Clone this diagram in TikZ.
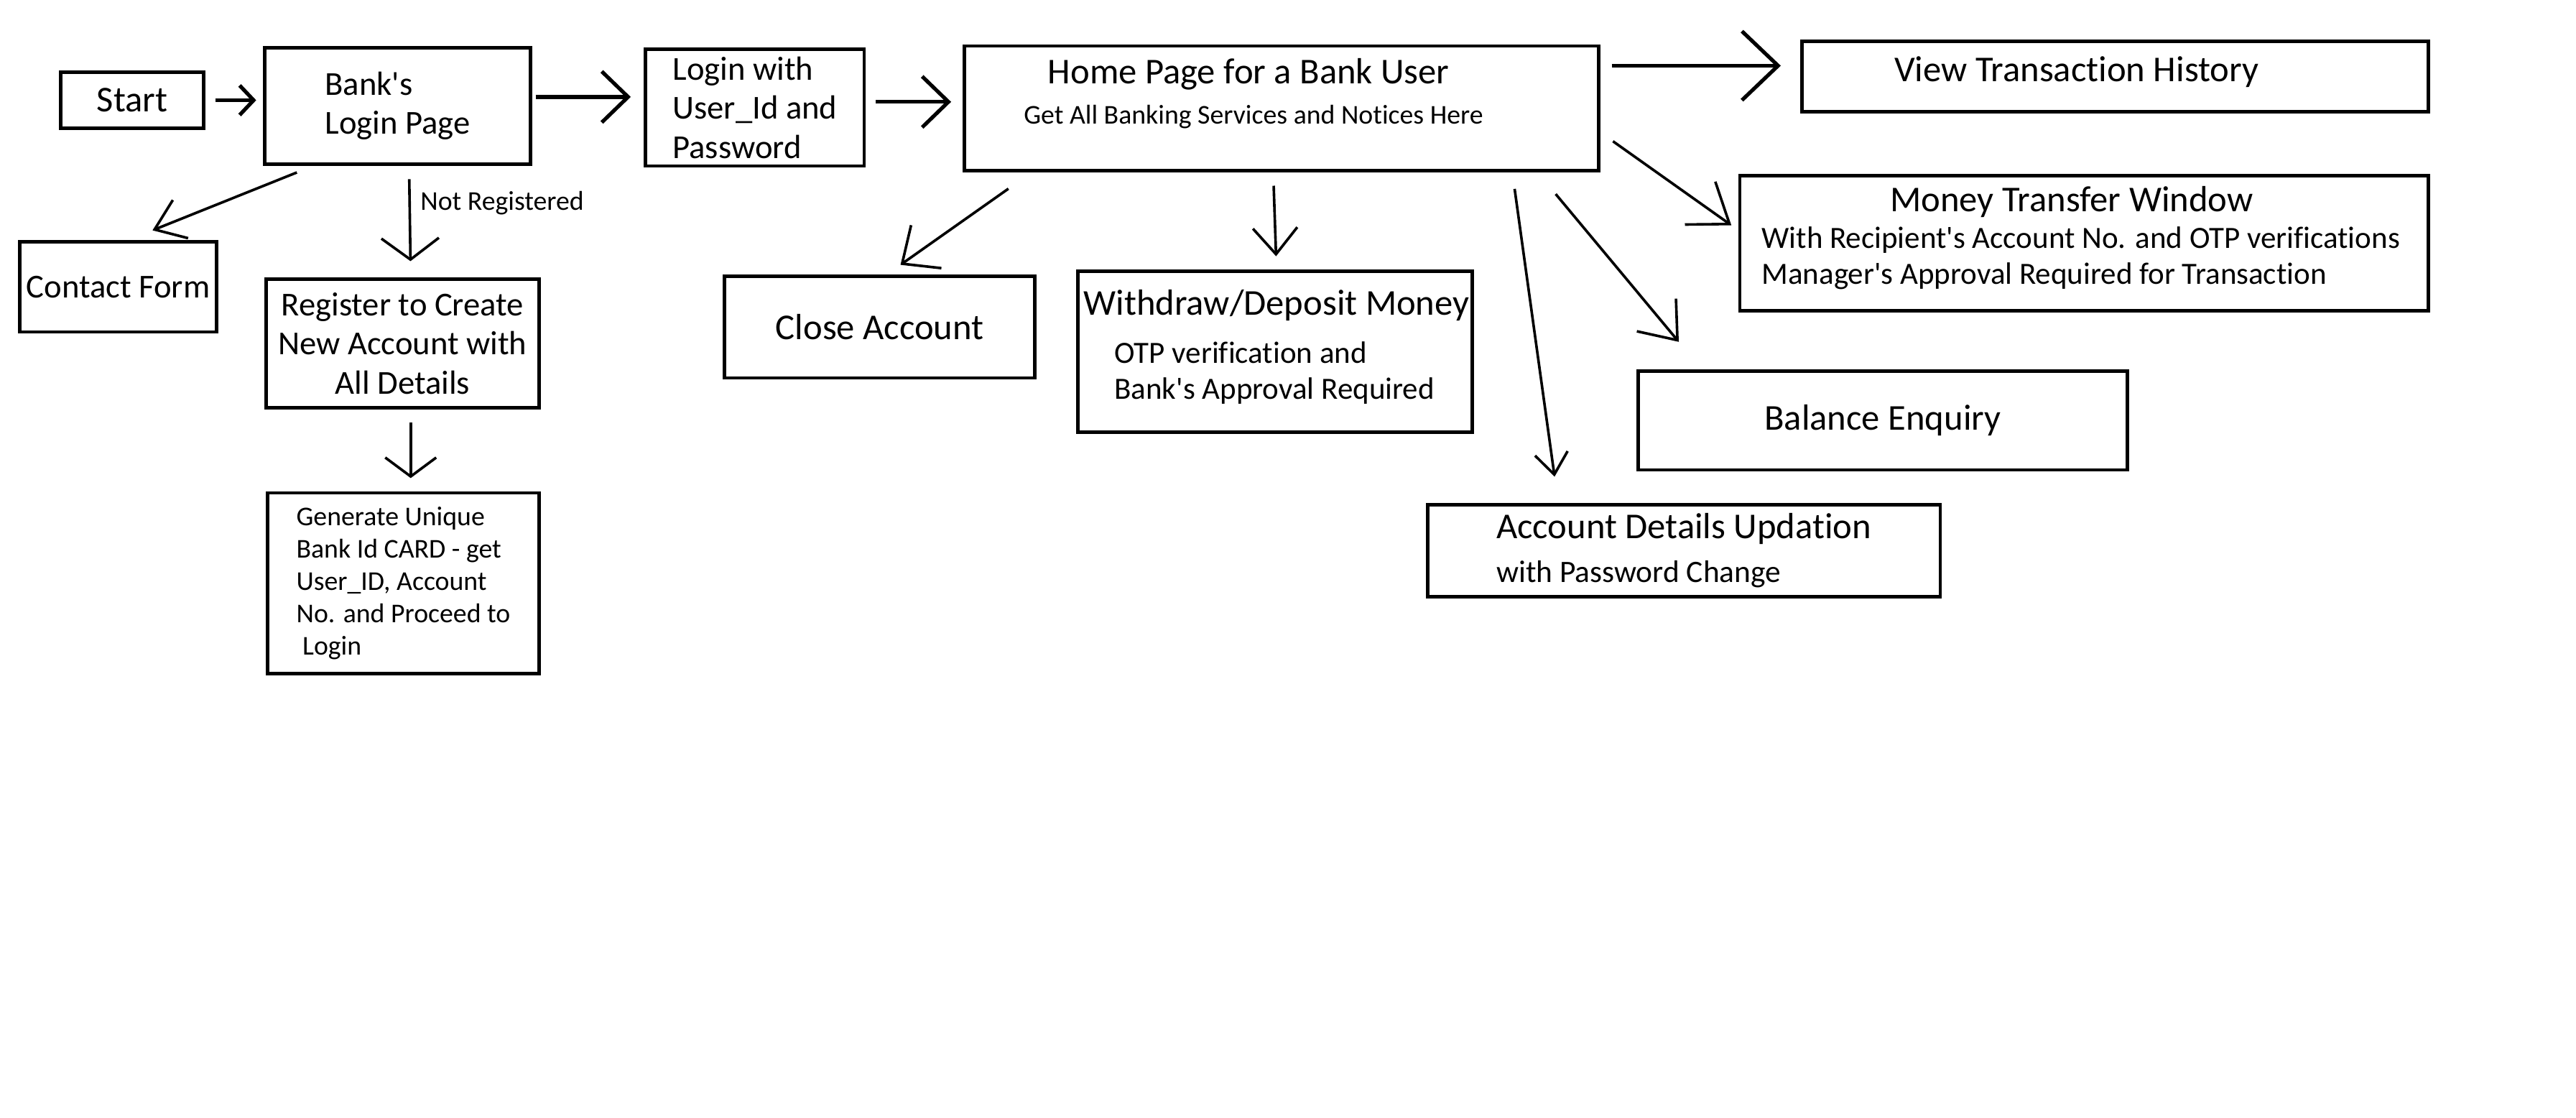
\documentclass[tikz,border=0pt]{standalone}
\usepackage{fontspec}
\setmainfont{Carlito}[Ligatures={TeXOff,CommonOff}]
\usetikzlibrary{arrows.meta}

\begin{document}
\begin{tikzpicture}[
  box/.style={draw=black, line width=1.2pt, inner sep=0pt},
  arr/.style={line width=0.9pt, -{Straight Barb[length=0.32cm,width=0.62cm]}},
  thickarr/.style={arr, line width=1.3pt},
  big/.style={font=\fontsize{12.6}{15}\selectfont},
  mid/.style={font=\fontsize{11.6}{13.6}\selectfont},
  sub/.style={font=\fontsize{10.7}{12.5}\selectfont},
  small/.style={font=\fontsize{9.4}{11.2}\selectfont}
]
\useasboundingbox (0,0) rectangle (31.36,13.6);

\node[box, big, minimum width=1.74cm, minimum height=0.68cm] (start) at (1.61,12.38) {Start};
\node[box, mid, align=left, minimum width=3.24cm, minimum height=1.42cm] (bank) at (4.84,12.31) {Bank's\\Login Page};
\node[box, mid, align=left, minimum width=2.66cm, minimum height=1.42cm] (creds) at (9.19,12.29) {Login with\\User\_Id and\\Password};
\node[box, minimum width=7.72cm, minimum height=1.52cm] (home) at (15.60,12.28) {};
\node[big] (hometitle) at (15.20,12.70) {Home Page for a Bank User};
\node[small] (homesub) at (15.26,12.18) {Get All Banking Services and Notices Here};
\node[box, minimum width=7.62cm, minimum height=0.86cm] (history) at (25.75,12.67) {};
\node[big] (historytxt) at (25.28,12.72) {View Transaction History};
\node[box, minimum width=8.38cm, minimum height=1.64cm] (transfer) at (25.37,10.64) {};
\node[big] (transfertitle) at (25.22,11.14) {Money Transfer Window};
\node[sub, align=left, anchor=west, inner sep=0pt] (transfersub) at (21.44,10.46) {With Recipient's Account No. and OTP verifications\\Manager's Approval Required for Transaction};

\node[box, mid, minimum width=2.40cm, minimum height=1.10cm] (contact) at (1.44,10.11) {Contact Form};
\node[box, mid, align=center, minimum width=3.32cm, minimum height=1.56cm] (register) at (4.90,9.42) {Register to Create\\New Account with\\All Details};
\node[box, small, align=left, minimum width=3.30cm, minimum height=2.20cm] (idcard) at (4.91,6.50) {Generate Unique\\Bank Id CARD - get\\User\_ID, Account\\No. and Proceed to\\\ Login};

\node[box, big, minimum width=3.78cm, minimum height=1.24cm] (close) at (10.71,9.62) {Close Account};
\node[box, minimum width=4.80cm, minimum height=1.96cm] (cash) at (15.52,9.32) {};
\node[big] (cashtitle) at (15.54,9.88) {Withdraw/Deposit Money};
\node[sub, align=left, anchor=west, inner sep=0pt] (cashsub) at (13.56,9.06) {OTP verification and\\Bank's Approval Required};
\node[box, big, minimum width=5.96cm, minimum height=1.20cm] (balance) at (22.92,8.48) {Balance Enquiry};
\node[box, big, align=left, minimum width=6.24cm, minimum height=1.12cm] (update) at (20.50,6.90) {Account Details Updation\\{\fontsize{10.8}{13}\selectfont with Password Change}};

\draw[thickarr, -{Straight Barb[length=0.17cm,width=0.36cm]}, shorten <=0.12cm, shorten >=0.08cm] (start.east) -- (start.east -| bank.west);
\draw[thickarr, shorten <=0.04cm, shorten >=0.16cm] ([yshift=0.11cm]bank.east) -- ([yshift=0.11cm]bank.east -| creds.west);
\draw[thickarr, shorten <=0.12cm, shorten >=0.14cm] ([yshift=0.07cm]creds.east) -- ([yshift=0.07cm]creds.east -| home.west);
\draw[thickarr, -{Straight Barb[length=0.44cm,width=0.84cm]}, shorten <=0.14cm, shorten >=0.24cm] ([yshift=0.52cm]home.east) -- ([yshift=0.52cm]home.east -| history.west);
\draw[arr, -{Straight Barb[length=0.44cm,width=0.64cm]}, shorten <=0.19cm, shorten >=0.1cm] ([yshift=-0.29cm]home.east) -- ([yshift=0.16cm]transfer.west);
\draw[arr, -{Straight Barb[length=0.4cm,width=0.62cm]}, shorten <=0.34cm, shorten >=0.44cm] ([xshift=-0.76cm]home.south east) -- ([xshift=0.80cm]balance.north west);
\draw[arr, -{Straight Barb[length=0.26cm,width=0.4cm]}, shorten <=0.2cm, shorten >=0.32cm] ([xshift=-1.07cm]home.south east) -- ([xshift=1.61cm]update.north west);
\draw[arr, -{Straight Barb[length=0.32cm,width=0.54cm]}, shorten <=0.16cm, shorten >=0.16cm] ([xshift=-0.1cm]home.south) -- ([xshift=0.02cm]cash.north);
\draw[arr, -{Straight Barb[length=0.36cm,width=0.64cm]}, shorten <=0.34cm, shorten >=0.2cm] ([xshift=0.835cm]home.south west) -- ([xshift=2.0cm]close.north west);
\draw[arr, -{Straight Barb[length=0.34cm,width=0.5cm]}, shorten <=0.21cm, shorten >=0.31cm] ([xshift=0.61cm]bank.south west) -- ([xshift=1.35cm]contact.north west);
\draw[arr, -{Straight Barb[length=0.26cm,width=0.7cm]}, shorten <=0.16cm, shorten >=0.2cm] ([xshift=0.14cm]bank.south) -- ([xshift=0.1cm]register.north) node[small, pos=0.33, right] (notreg) {Not Registered};
\draw[arr, -{Straight Barb[length=0.23cm,width=0.62cm]}, shorten <=0.16cm, shorten >=0.16cm] ([xshift=0.1cm]register.south) -- ([xshift=0.09cm]idcard.north);
\end{tikzpicture}
\end{document}
